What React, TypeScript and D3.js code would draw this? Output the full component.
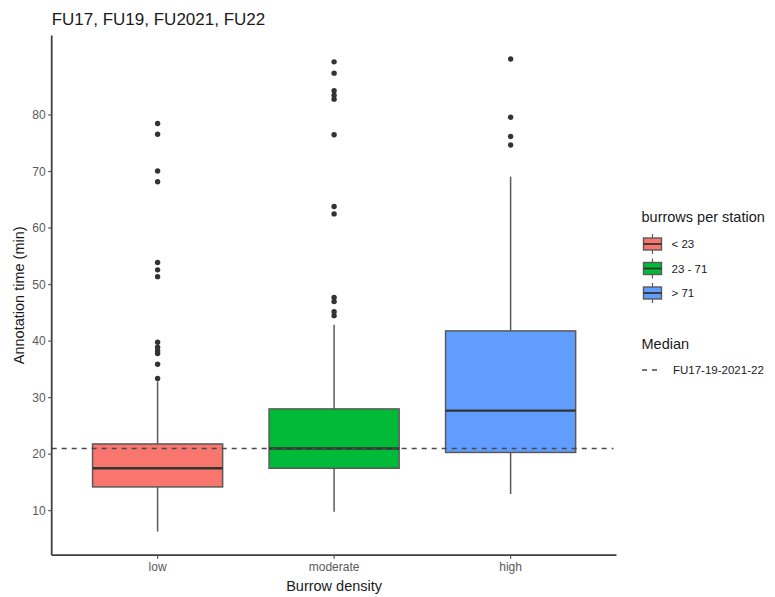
import React from "react";
import * as d3 from "d3";

const categories = ["low", "moderate", "high"];
const groupLabels = ["< 23", "23 - 71", "> 71"];
const colors = ["#F8766D", "#00BA38", "#619CFF"];
const whiskerLow = [6.3, 9.8, 12.95];
const q1 = [14.2, 17.5, 20.3];
const medians = [17.5, 21.0, 27.7];
const q3 = [21.8, 28.0, 41.8];
const whiskerHigh = [32.9, 42.9, 69.1];
const outliersLow = [33.4, 35.9, 37.8, 38.3, 38.9, 39.8, 51.4, 52.6, 53.9, 68.2, 70.1, 76.6, 78.5];
const outliersModerate = [44.5, 45.2, 47.0, 47.7, 62.5, 63.8, 76.5, 82.8, 83.5, 84.3, 87.4, 89.4];
const outliersHigh = [74.7, 76.2, 79.6, 89.9];
const outliers = [outliersLow, outliersModerate, outliersHigh];
const overallMedian = 21.0;
const yTicks = [10, 20, 30, 40, 50, 60, 70, 80];

const W = 775;
const H = 597;
const panelLeft = 51.7;
const panelRight = 616.5;
const panelBottom = 555.2;
const panelTop = 35.4;

export default function App() {
  const allVals = [...whiskerLow, ...whiskerHigh, ...outliers.flat()];
  const lo = d3.min(allVals) as number;
  const hi = d3.max(allVals) as number;
  const pad = (hi - lo) * 0.05;
  const y = d3.scaleLinear().domain([lo - pad, hi + pad]).range([panelBottom, panelTop]);
  const x = d3.scaleLinear().domain([0.4, categories.length + 0.6]).range([panelLeft, panelRight]);
  const step = x(2) - x(1);
  const boxW = step * 0.737;
  const dark = "#333333";
  const whisk = "#5a5a5a";
  const font = "Liberation Sans, Arial, sans-serif";

  const legendKeyYs = [244, 268.5, 293];

  return (
    <svg width={W} height={H} style={{ position: "absolute", left: 0, top: 0, background: "#fff" }} fontFamily={font}>
      <rect x={0} y={0} width={W} height={H} fill="#fff" />
      {/* title */}
      <text x={panelLeft} y={25} fontSize={17} fill="#1a1a1a">FU17, FU19, FU2021, FU22</text>

      {/* boxes */}
      {categories.map((c, i) => {
        const cx = x(i + 1);
        return (
          <g key={c}>
            <line x1={cx} x2={cx} y1={y(whiskerHigh[i])} y2={y(q3[i])} stroke={whisk} strokeWidth={1.5} />
            <line x1={cx} x2={cx} y1={y(whiskerLow[i])} y2={y(q1[i])} stroke={whisk} strokeWidth={1.5} />
            <rect x={cx - boxW / 2} y={y(q3[i])} width={boxW} height={y(q1[i]) - y(q3[i])} fill={colors[i]} stroke={whisk} strokeWidth={1.5} />
            <line x1={cx - boxW / 2} x2={cx + boxW / 2} y1={y(medians[i])} y2={y(medians[i])} stroke={dark} strokeWidth={2.4} />
            {outliers[i].map((v, j) => (
              <circle key={j} cx={cx} cy={y(v)} r={2.7} fill={dark} />
            ))}
          </g>
        );
      })}

      {/* overall median dashed line */}
      <line x1={panelLeft} x2={panelRight - 3} y1={y(overallMedian)} y2={y(overallMedian)} stroke="#4a4a4a" strokeWidth={1.7} strokeDasharray="5,5" />

      {/* axes */}
      <line x1={panelLeft} x2={panelLeft} y1={panelTop} y2={panelBottom} stroke="#404040" strokeWidth={1.8} />
      <line x1={panelLeft} x2={panelRight} y1={panelBottom} y2={panelBottom} stroke="#404040" strokeWidth={1.8} />
      {yTicks.map((t) => (
        <g key={t}>
          <line x1={panelLeft - 3.5} x2={panelLeft} y1={y(t)} y2={y(t)} stroke="#555" strokeWidth={1.2} />
          <text x={panelLeft - 6} y={y(t)} dy="0.35em" textAnchor="end" fontSize={12} fill="#595959">{t}</text>
        </g>
      ))}
      {categories.map((c, i) => (
        <g key={c}>
          <line x1={x(i + 1)} x2={x(i + 1)} y1={panelBottom} y2={panelBottom + 3.5} stroke="#555" strokeWidth={1.2} />
          <text x={x(i + 1)} y={panelBottom + 15.5} textAnchor="middle" fontSize={12} fill="#595959">{c}</text>
        </g>
      ))}
      <text x={(panelLeft + panelRight) / 2} y={591} textAnchor="middle" fontSize={14.5} fill="#1a1a1a">Burrow density</text>
      <text transform={`translate(24,${(panelTop + panelBottom) / 2}) rotate(-90)`} textAnchor="middle" fontSize={14.5} fill="#1a1a1a">Annotation time (min)</text>

      {/* legend: burrows per station */}
      <text x={641.5} y={222} fontSize={14.5} fill="#1a1a1a">burrows per station</text>
      {groupLabels.map((g, i) => {
        const cy = legendKeyYs[i];
        const kx = 652.5;
        return (
          <g key={g}>
            <line x1={kx} x2={kx} y1={cy - 10} y2={cy + 10} stroke={whisk} strokeWidth={1.2} />
            <rect x={kx - 9} y={cy - 6} width={18} height={12} fill={colors[i]} stroke={whisk} strokeWidth={1.4} />
            <line x1={kx - 9} x2={kx + 9} y1={cy} y2={cy} stroke={dark} strokeWidth={1.8} />
            <text x={671.5} y={cy} dy="0.35em" fontSize={11.5} fill="#1a1a1a">{g}</text>
          </g>
        );
      })}

      {/* legend: median */}
      <text x={641.5} y={349} fontSize={14.5} fill="#1a1a1a">Median</text>
      <line x1={642} x2={658} y1={370} y2={370} stroke="#4a4a4a" strokeWidth={1.7} strokeDasharray="5,5" />
      <text x={673} y={370} dy="0.35em" fontSize={11.5} fill="#1a1a1a">FU17-19-2021-22</text>
    </svg>
  );
}
